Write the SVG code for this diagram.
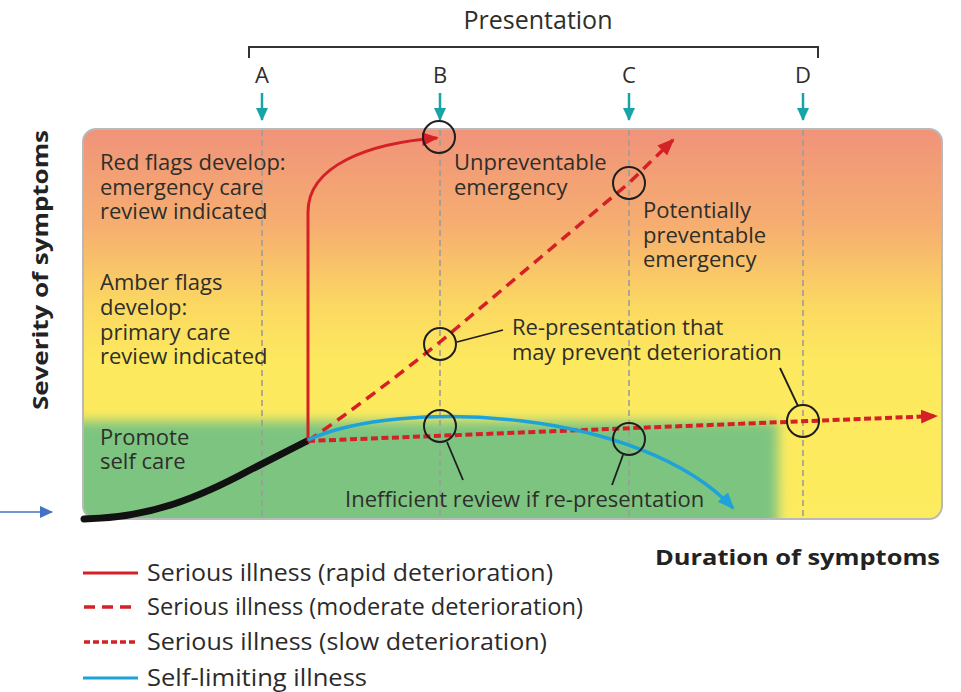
<svg xmlns="http://www.w3.org/2000/svg" width="961" height="692" viewBox="0 0 961 692">
<style>
.t{font-family:"Open Sans","Liberation Sans",sans-serif;font-size:22px;fill:#2e2e2a}
.b{font-family:"Open Sans","Liberation Sans",sans-serif;font-weight:bold;font-size:21px;fill:#222}
.lg{font-family:"Open Sans","Liberation Sans",sans-serif;font-size:23px;fill:#2b2b2b}
.vl{stroke:#9c9c9c;stroke-width:1.6;stroke-dasharray:6 4;fill:none}
.ring{fill:none;stroke:#1e1e1e;stroke-width:2}
.lead{stroke:#1e1e1e;stroke-width:1.8;fill:none}
.teal{stroke:#17a3a8;stroke-width:2.5;fill:none}
</style>
<defs>
<linearGradient id="bg" x1="0" y1="129" x2="0" y2="519" gradientUnits="userSpaceOnUse">
<stop offset="0" stop-color="#f0937a"/>
<stop offset="0.25" stop-color="#f6ae70"/>
<stop offset="0.45" stop-color="#fbd862"/>
<stop offset="0.6" stop-color="#fde95e"/>
<stop offset="1" stop-color="#fdec5f"/>
</linearGradient>
<clipPath id="box"><rect x="83" y="129" width="859" height="390" rx="13"/></clipPath>
<filter id="blur" x="-0.1" y="-0.3" width="1.2" height="1.6"><feGaussianBlur stdDeviation="6"/></filter>
<marker id="ar" markerUnits="userSpaceOnUse" markerWidth="18" markerHeight="16" refX="15" refY="8" orient="auto" viewBox="0 0 18 16"><path d="M0,1 L17,8 L0,15 z" fill="#d42128"/></marker>
<marker id="ab" markerUnits="userSpaceOnUse" markerWidth="18" markerHeight="16" refX="15" refY="8" orient="auto" viewBox="0 0 18 16"><path d="M0,1 L17,8 L0,15 z" fill="#1ea2d9"/></marker>
<marker id="at" markerUnits="userSpaceOnUse" markerWidth="14" markerHeight="14" refX="12" refY="7" orient="auto" viewBox="0 0 14 14"><path d="M0,1 L13,7 L0,13 z" fill="#17a3a8"/></marker>
<marker id="abl" markerUnits="userSpaceOnUse" markerWidth="14" markerHeight="14" refX="12" refY="7" orient="auto" viewBox="0 0 14 14"><path d="M0,1 L13,7 L0,13 z" fill="#4472c4"/></marker>
</defs>

<g id="background">
<rect x="83" y="129" width="859" height="390" rx="13" fill="url(#bg)"/>
<g clip-path="url(#box)">
<rect x="60" y="421" width="718" height="130" fill="#7dc481" filter="url(#blur)"/>
</g>
<rect x="83" y="129" width="859" height="390" rx="13" fill="none" stroke="#b9b9b9" stroke-width="2"/>
</g>

<g id="presentation">
<text class="t" x="538" y="29" text-anchor="middle" style="font-size:25px">Presentation</text>
<path d="M249,58 V47 H818 V58" fill="none" stroke="#333" stroke-width="2"/>
<text class="t" x="262" y="83" text-anchor="middle">A</text>
<text class="t" x="440" y="83" text-anchor="middle">B</text>
<text class="t" x="629" y="83" text-anchor="middle">C</text>
<text class="t" x="803" y="83" text-anchor="middle">D</text>
<line class="teal" x1="262" y1="93" x2="262" y2="120" marker-end="url(#at)"/>
<line class="teal" x1="440" y1="93" x2="440" y2="120" marker-end="url(#at)"/>
<line class="teal" x1="629" y1="93" x2="629" y2="120" marker-end="url(#at)"/>
<line class="teal" x1="803" y1="93" x2="803" y2="120" marker-end="url(#at)"/>
</g>

<g id="gridlines">
<line class="vl" x1="262" y1="130" x2="262" y2="518"/>
<line class="vl" x1="440" y1="130" x2="440" y2="518"/>
<line class="vl" x1="629" y1="130" x2="629" y2="518"/>
<line class="vl" x1="803" y1="130" x2="803" y2="518"/>
</g>

<g id="zone-labels">
<text class="t" x="100" y="170">Red flags develop:</text>
<text class="t" x="100" y="195">emergency care</text>
<text class="t" x="100" y="219">review indicated</text>
<text class="t" x="100" y="290">Amber flags</text>
<text class="t" x="100" y="315">develop:</text>
<text class="t" x="100" y="340">primary care</text>
<text class="t" x="100" y="364">review indicated</text>
<text class="t" x="100" y="445">Promote</text>
<text class="t" x="100" y="469">self care</text>
</g>

<g id="connectors">
<path d="M84,519 C150,518 200,497 250,470 L307,441" fill="none" stroke="#111" stroke-width="7" stroke-linecap="round"/>
<path d="M308,441 V212 C308,165 370,143 437,138" fill="none" stroke="#d42128" stroke-width="3" marker-end="url(#ar)"/>
<path d="M308,441 Q370,398 440,342 L629,183 L673,140" fill="none" stroke="#d42128" stroke-width="3.5" stroke-dasharray="11 7" marker-end="url(#ar)"/>
<path d="M308,441 L936,416" fill="none" stroke="#d42128" stroke-width="4" stroke-dasharray="7 3.5" marker-end="url(#ar)"/>
<path d="M308,440 C400,398 640,408 733,508" fill="none" stroke="#1ea2d9" stroke-width="3.5" marker-end="url(#ab)"/>
<line x1="0" y1="512" x2="52" y2="512" stroke="#4472c4" stroke-width="1.5" marker-end="url(#abl)"/>
</g>

<g id="annotations">
<circle class="ring" cx="439" cy="137" r="16"/>
<circle class="ring" cx="440" cy="344" r="16"/>
<circle class="ring" cx="440" cy="426" r="16"/>
<circle class="ring" cx="629" cy="183" r="16"/>
<circle class="ring" cx="629" cy="439" r="16"/>
<circle class="ring" cx="803" cy="421" r="16"/>
<line class="lead" x1="457" y1="342" x2="503" y2="330"/>
<line class="lead" x1="780" y1="368" x2="798" y2="406"/>
<line class="lead" x1="447" y1="442" x2="463" y2="480"/>
<line class="lead" x1="623" y1="455" x2="612" y2="485"/>
<text class="t" x="454" y="170">Unpreventable</text>
<text class="t" x="454" y="195">emergency</text>
<text class="t" x="643" y="218">Potentially</text>
<text class="t" x="643" y="243">preventable</text>
<text class="t" x="643" y="267">emergency</text>
<text class="t" x="512" y="335">Re-presentation that</text>
<text class="t" x="512" y="360">may prevent deterioration</text>
<text class="t" x="345" y="507">Inefficient review if re-presentation</text>
</g>

<g id="axes">
<text class="b" transform="translate(48,270) rotate(-90)" text-anchor="middle" textLength="280" lengthAdjust="spacingAndGlyphs">Severity of symptoms</text>
<text class="b" x="655" y="565" textLength="285" lengthAdjust="spacingAndGlyphs">Duration of symptoms</text>
</g>

<g id="legend">
<line x1="83" y1="573" x2="138" y2="573" stroke="#d42128" stroke-width="3"/>
<line x1="84" y1="607" x2="138" y2="607" stroke="#d42128" stroke-width="3.5" stroke-dasharray="11 7"/>
<line x1="84" y1="642" x2="138" y2="642" stroke="#d42128" stroke-width="3.5" stroke-dasharray="6 3"/>
<line x1="83" y1="678" x2="138" y2="678" stroke="#1ea2d9" stroke-width="3"/>
<text class="lg" x="147" y="581" textLength="406" lengthAdjust="spacingAndGlyphs">Serious illness (rapid deterioration)</text>
<text class="lg" x="147" y="615" textLength="436" lengthAdjust="spacingAndGlyphs">Serious illness (moderate deterioration)</text>
<text class="lg" x="147" y="650" textLength="400" lengthAdjust="spacingAndGlyphs">Serious illness (slow deterioration)</text>
<text class="lg" x="147" y="686" textLength="220" lengthAdjust="spacingAndGlyphs">Self-limiting illness</text>
</g>
</svg>
